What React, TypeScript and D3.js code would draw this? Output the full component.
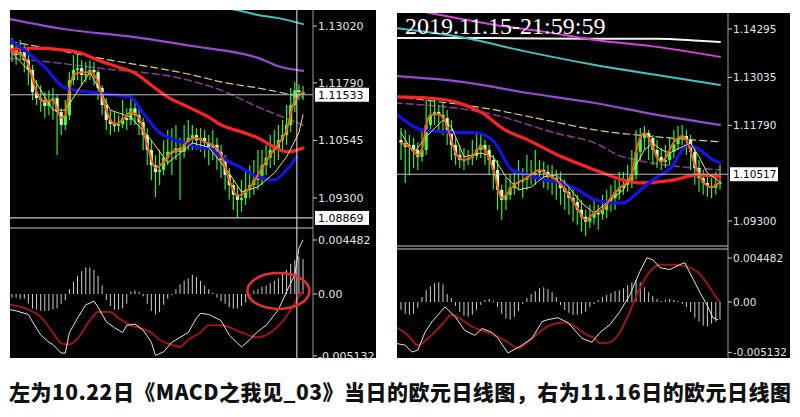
import React from "react";
import * as d3 from "d3";

type OHLC = [number, number, number, number];
type Pt = [number, number];

// ---------------- LEFT CHART (10.22) ----------------
const leftCandles: OHLC[] = [
  [1.1261, 1.1276, 1.1224, 1.125], [1.125, 1.1267, 1.1218, 1.1239], [1.1239, 1.1272, 1.1228, 1.1246],
  [1.1246, 1.1261, 1.1202, 1.1228], [1.1228, 1.125, 1.1174, 1.1207], [1.1207, 1.1218, 1.1142, 1.1159],
  [1.1159, 1.1185, 1.1131, 1.1146], [1.1146, 1.1174, 1.1116, 1.1142], [1.1142, 1.1159, 1.1103, 1.1129],
  [1.1129, 1.1163, 1.1109, 1.1142], [1.1142, 1.1168, 1.1099, 1.1146], [1.1146, 1.1152, 1.1023, 1.1116],
  [1.1116, 1.1124, 1.1066, 1.1088], [1.1088, 1.1142, 1.1077, 1.1109], [1.1109, 1.1202, 1.1099, 1.1185],
  [1.1185, 1.1239, 1.1174, 1.1207], [1.1207, 1.1246, 1.1185, 1.1211], [1.1211, 1.1228, 1.1174, 1.1196],
  [1.1196, 1.1224, 1.1181, 1.1198], [1.1198, 1.1228, 1.1185, 1.1207], [1.1207, 1.1224, 1.1174, 1.1202],
  [1.1202, 1.1207, 1.1142, 1.1168], [1.1168, 1.1174, 1.1109, 1.1131], [1.1131, 1.1146, 1.1077, 1.1099],
  [1.1099, 1.112, 1.1066, 1.109], [1.109, 1.1116, 1.1073, 1.1086], [1.1086, 1.1109, 1.1073, 1.109],
  [1.109, 1.1142, 1.1081, 1.1103], [1.1103, 1.1124, 1.1077, 1.1099], [1.1099, 1.1152, 1.1088, 1.1124],
  [1.1124, 1.1142, 1.1088, 1.1109], [1.1109, 1.1124, 1.1066, 1.1094], [1.1094, 1.1103, 1.1034, 1.1066],
  [1.1066, 1.1081, 1.1001, 1.1034], [1.1034, 1.1055, 1.0969, 1.1001], [1.1001, 1.1023, 1.0932, 1.0986],
  [1.0986, 1.1034, 1.0958, 1.0991], [1.0991, 1.1055, 1.098, 1.1017], [1.1017, 1.1077, 1.1001, 1.103],
  [1.103, 1.1081, 1.098, 1.1028], [1.1028, 1.1088, 1.1012, 1.1038], [1.1038, 1.106, 1.0926, 1.103],
  [1.103, 1.1088, 1.1017, 1.1051], [1.1051, 1.1099, 1.1034, 1.106], [1.106, 1.1088, 1.1034, 1.1066],
  [1.1066, 1.1081, 1.1034, 1.1055], [1.1055, 1.1081, 1.103, 1.106], [1.106, 1.1077, 1.1017, 1.1049],
  [1.1049, 1.1066, 1.1001, 1.1038], [1.1038, 1.1077, 1.1012, 1.1045], [1.1045, 1.106, 1.0991, 1.103],
  [1.103, 1.1045, 1.0973, 1.1012], [1.1012, 1.1023, 1.0948, 1.098], [1.098, 1.0995, 1.0926, 1.0958],
  [1.0958, 1.0969, 1.0904, 1.0937], [1.0937, 1.0958, 1.0887, 1.0926], [1.0926, 1.0969, 1.09, 1.093],
  [1.093, 1.0986, 1.0915, 1.0948], [1.0948, 1.1001, 1.093, 1.0958], [1.0958, 1.1012, 1.0937, 1.0969],
  [1.0969, 1.1034, 1.0948, 1.0978], [1.0978, 1.1034, 1.0958, 1.1001], [1.1001, 1.1045, 1.098, 1.1017],
  [1.1017, 1.1066, 1.0995, 1.1034], [1.1034, 1.1077, 1.1001, 1.1038], [1.1038, 1.1088, 1.1012, 1.1055],
  [1.1055, 1.1099, 1.1034, 1.1066], [1.1066, 1.1131, 1.1045, 1.1088], [1.1088, 1.1168, 1.1073, 1.1131],
  [1.1131, 1.1181, 1.1116, 1.1163], [1.1163, 1.1176, 1.1142, 1.1159], [1.1159, 1.1172, 1.1142, 1.1155],
];
const leftRed: Pt[] = [[-0.5, 1.125], [5, 1.1254], [13, 1.125], [17, 1.1243], [21, 1.1228], [26, 1.1213], [30, 1.12], [34, 1.1174], [38, 1.1148], [42, 1.1131], [46, 1.1114], [48, 1.1105], [51, 1.1088], [56, 1.1073], [60, 1.106], [64, 1.104], [67, 1.103], [69, 1.1032], [71, 1.1038]];
const leftBlue: Pt[] = [[-0.5, 1.1272], [4, 1.1243], [8, 1.1213], [13, 1.1168], [21, 1.1157], [29, 1.1148], [32, 1.1114], [36, 1.1071], [43, 1.1047], [46, 1.1038], [48, 1.1038], [51, 1.1019], [56, 1.0995], [60, 1.0976], [64, 1.0969], [67, 1.0991], [69.5, 1.1019]];
const leftPurple: Pt[] = [[-0.5, 1.1317], [13, 1.1295], [30, 1.1278], [46, 1.1256], [51, 1.125], [60, 1.1233], [65, 1.1215], [71, 1.1205]];
const leftCyan: Pt[] = [[50, 1.1347], [55, 1.1336], [60, 1.1326], [65, 1.1319], [71, 1.1306]];
const leftKhaki: Pt[] = [[-0.5, 1.1269], [21, 1.1233], [46, 1.1192], [51, 1.1181], [60, 1.1168], [71, 1.1148]];
const leftViolet: Pt[] = [[-0.5, 1.1232], [5, 1.1228], [21, 1.1211], [43, 1.1185], [51, 1.1163], [60, 1.1127], [71, 1.1088]];
const leftOrange: Pt[] = [[0, 1.1246], [2, 1.1241], [4, 1.1218], [6, 1.1159], [8, 1.1138], [10, 1.1142], [12, 1.1103], [13, 1.1109], [14, 1.1163], [15, 1.1196], [17, 1.1202], [19, 1.1202], [21, 1.1181], [23, 1.112], [25, 1.109], [27, 1.1099], [29, 1.1116], [31, 1.1103], [33, 1.1045], [35, 1.0995], [37, 1.1008], [39, 1.103], [41, 1.1034], [43, 1.1055], [45, 1.106], [47, 1.1051], [49, 1.1045], [51, 1.1023], [53, 1.0969], [55, 1.0935], [57, 1.0943], [59, 1.0965], [61, 1.0995], [63, 1.1023], [65, 1.1047], [67, 1.1077], [69, 1.1142], [71, 1.1157]];
const leftYellow: Pt[] = [[0, 1.1243], [4, 1.1207], [10, 1.112], [13, 1.112], [19, 1.1202], [24, 1.112], [29, 1.1105], [34, 1.1055], [38, 1.1006], [42, 1.1034], [44, 1.1049], [48, 1.104], [53, 1.0984], [56, 1.0943], [60, 1.0954], [64, 1.0984], [67, 1.1019], [70, 1.1071], [71, 1.111]];
const leftHist: number[] = [
  -0.0003, -0.0003, -0.0004, -0.0004,
  -0.0008, -0.0012, -0.0013, -0.0014, -0.0014, -0.0014, -0.0013, -0.0012, -0.0008,
  -0.0005,
  0.0004, 0.001, 0.0015, 0.0019, 0.0022, 0.0022, 0.002, 0.0015, 0.0007,
  -0.0005, -0.001, -0.0013, -0.0013, -0.0012, -0.0008, 0.0002, 0.0003, 0.0002, -0.0002,
  -0.0008, -0.0014, -0.0017, -0.0015, -0.0009, -0.0004, -0.0001,
  0.0004, 0.0008, 0.0011, 0.0013, 0.0016, 0.0014, 0.0011, 0.0007, 0.0004, 0.0001,
  -0.0003, -0.0006, -0.0008, -0.0011, -0.0012, -0.0012, -0.001, -0.0007, -0.0003,
  0.0003, 0.0004, 0.0006, 0.0007, 0.0009, 0.0011, 0.0013, 0.0017, 0.002, 0.0025, 0.0028, 0.0031, 0.0029,
];
const leftMacd: Pt[] = [[-0.5, -0.0013], [1, -0.0014], [4, -0.0017], [5, -0.0023], [7, -0.0034], [9, -0.004], [10, -0.0042], [12, -0.0049], [13, -0.0049], [14, -0.0032], [16, -0.002], [18, -0.0009], [20, -0.0006], [21, -0.0011], [23, -0.0023], [25, -0.0028], [27, -0.0032], [28, -0.0026], [30, -0.0025], [32, -0.003], [34, -0.004], [35, -0.0051], [37, -0.0048], [39, -0.004], [43, -0.0032], [45, -0.002], [46, -0.0016], [48, -0.0017], [51, -0.0022], [53, -0.0034], [56, -0.0044], [58, -0.0038], [60, -0.0031], [62, -0.0026], [65, -0.0013], [67, 0.0002], [69, 0.0016], [70, 0.0038], [71, 0.0045]];
const leftSignal: Pt[] = [[-0.5, -0.0009], [4, -0.0013], [7, -0.0019], [10, -0.0032], [12, -0.0041], [14, -0.0042], [16, -0.0037], [19, -0.0022], [21, -0.0015], [24, -0.0015], [26, -0.002], [29, -0.0026], [31, -0.0028], [34, -0.0032], [36, -0.0038], [39, -0.0042], [41, -0.0044], [43, -0.0038], [46, -0.0032], [48, -0.0026], [51, -0.0026], [56, -0.0032], [60, -0.0036], [63, -0.0032], [66, -0.0023], [68, -0.0013], [70, -0.0002], [71, 0.0003]];
const leftPriceTicks = [1.1302, 1.1179, 1.10545, 1.093];
const leftMarks = [1.11533, 1.08869];
const leftMacdTicks = [0.004482, 0, -0.005132];
const leftMacdLabels = ["0.004482", "0.00", "-0.005132"];
const leftCrossIndex = 69.5;
const leftRing: Pt = [65, 0.00025];

// ---------------- RIGHT CHART (11.16) ----------------
const rightCandles: OHLC[] = [
  [1.1141, 1.1172, 1.1089, 1.1133], [1.1133, 1.1167, 1.1029, 1.1123], [1.1123, 1.1154, 1.105, 1.1128],
  [1.1128, 1.1146, 1.1068, 1.1115], [1.1115, 1.1135, 1.1063, 1.1097], [1.1097, 1.1172, 1.1084, 1.1115],
  [1.1115, 1.1245, 1.1102, 1.118], [1.118, 1.1245, 1.1167, 1.1206], [1.1206, 1.125, 1.118, 1.1214],
  [1.1214, 1.1232, 1.1167, 1.1206], [1.1206, 1.124, 1.1154, 1.1198], [1.1198, 1.1219, 1.1128, 1.1167],
  [1.1167, 1.1193, 1.1089, 1.1128], [1.1128, 1.1146, 1.1076, 1.1102], [1.1102, 1.1128, 1.1068, 1.1089],
  [1.1089, 1.112, 1.1063, 1.1089], [1.1089, 1.1115, 1.1076, 1.1094], [1.1094, 1.1141, 1.1076, 1.1099],
  [1.1099, 1.1162, 1.1089, 1.1115], [1.1115, 1.1154, 1.1094, 1.1128], [1.1128, 1.1141, 1.1076, 1.1115],
  [1.1115, 1.1128, 1.105, 1.1089], [1.1089, 1.1102, 1.1011, 1.1063], [1.1063, 1.1089, 1.0959, 1.1011],
  [1.1011, 1.1024, 1.0933, 1.0985], [1.0985, 1.1042, 1.0959, 1.0998], [1.0998, 1.105, 1.0985, 1.1016],
  [1.1016, 1.1063, 1.0998, 1.1029], [1.1029, 1.1089, 1.1011, 1.1032], [1.1032, 1.1068, 1.099, 1.1037],
  [1.1037, 1.1102, 1.1011, 1.1045], [1.1045, 1.1089, 1.1024, 1.105], [1.105, 1.1115, 1.1024, 1.1055],
  [1.1055, 1.1089, 1.1037, 1.1063], [1.1063, 1.1084, 1.1016, 1.1058], [1.1058, 1.1076, 1.1011, 1.1047],
  [1.1047, 1.1076, 1.0998, 1.1042], [1.1042, 1.1063, 1.0985, 1.1032], [1.1032, 1.1058, 1.0972, 1.1016],
  [1.1016, 1.1037, 1.0959, 1.1006], [1.1006, 1.1024, 1.0946, 1.099], [1.099, 1.1016, 1.0928, 1.098],
  [1.098, 1.0998, 1.092, 1.0959], [1.0959, 1.0985, 1.0902, 1.0941], [1.0941, 1.0959, 1.0891, 1.0928],
  [1.0928, 1.0972, 1.0912, 1.0938], [1.0938, 1.0985, 1.092, 1.0951], [1.0951, 1.0972, 1.0907, 1.0948],
  [1.0948, 1.0998, 1.0933, 1.0959], [1.0959, 1.1011, 1.0938, 1.0974], [1.0974, 1.1024, 1.0954, 1.099],
  [1.099, 1.1037, 1.0959, 1.1006], [1.1006, 1.1058, 1.0985, 1.1016], [1.1016, 1.1058, 1.0998, 1.1024],
  [1.1024, 1.1076, 1.1006, 1.1032], [1.1032, 1.1115, 1.1016, 1.105], [1.105, 1.1167, 1.1037, 1.111],
  [1.111, 1.1172, 1.1089, 1.1146], [1.1146, 1.1177, 1.1115, 1.1159], [1.1159, 1.1167, 1.1089, 1.1146],
  [1.1146, 1.1154, 1.1076, 1.1115], [1.1115, 1.1141, 1.1068, 1.1097], [1.1097, 1.112, 1.1063, 1.1084],
  [1.1084, 1.1128, 1.1068, 1.1089], [1.1089, 1.1146, 1.1076, 1.111], [1.111, 1.1167, 1.1094, 1.113],
  [1.113, 1.1177, 1.1115, 1.1146], [1.1146, 1.118, 1.1128, 1.1151], [1.1151, 1.1167, 1.1102, 1.1141],
  [1.1141, 1.1154, 1.1063, 1.111], [1.111, 1.112, 1.1024, 1.1068], [1.1068, 1.1089, 1.1006, 1.1042],
  [1.1042, 1.1063, 1.0998, 1.1029], [1.1029, 1.105, 1.0993, 1.1021], [1.1021, 1.1042, 1.099, 1.1016],
  [1.1016, 1.1058, 1.0998, 1.1026], [1.1026, 1.1076, 1.1011, 1.1032],
];
const rightWhite: Pt[] = [[-1.4, 1.1406], [22, 1.1406], [45, 1.1404], [61, 1.1404], [71, 1.1399], [76, 1.1396]];
const rightMagenta: Pt[] = [[-1.4, 1.149], [8.8, 1.1467], [22.4, 1.144], [34.3, 1.1422], [46.2, 1.1401], [61, 1.1383], [76, 1.1357]];
const rightCyan: Pt[] = [[-1.4, 1.1432], [14.5, 1.1408], [30.2, 1.137], [46.2, 1.1336], [61, 1.131], [76, 1.1284]];
const rightPurple: Pt[] = [[-1.4, 1.1307], [14.5, 1.1292], [30.2, 1.1263], [46.2, 1.1237], [61, 1.1206], [76, 1.118]];
const rightKhaki: Pt[] = [[-1.4, 1.1253], [22.4, 1.1219], [34.3, 1.1193], [46.2, 1.1167], [61, 1.1149], [76, 1.1136]];
const rightViolet: Pt[] = [[-1.4, 1.1237], [22.4, 1.1206], [36.7, 1.1159], [46.2, 1.1133], [52.9, 1.1097], [76, 1.1063]];
const rightRed: Pt[] = [[-1.4, 1.1253], [6.4, 1.125], [12.9, 1.124], [19.3, 1.1211], [24.8, 1.1167], [30.2, 1.1141], [38.3, 1.1097], [46.2, 1.1063], [52.9, 1.1037], [57, 1.1029], [65.1, 1.1037], [70.5, 1.105], [76, 1.1045]];
const rightBlue: Pt[] = [[-1.4, 1.1211], [1.7, 1.1185], [5, 1.1167], [10.5, 1.1162], [18.3, 1.1159], [22.4, 1.1133], [26.4, 1.1063], [30.2, 1.105], [34.3, 1.1037], [38.3, 1.1029], [42.1, 1.1011], [46.2, 1.0985], [49.8, 1.0977], [52.9, 1.0977], [56.2, 1.1003], [60, 1.1037], [64.5, 1.1071], [68.3, 1.1128], [71.2, 1.1115], [74.3, 1.1089], [76, 1.1081]];
const rightOrange: Pt[] = [[0, 1.1133], [2, 1.1123], [4, 1.1102], [5, 1.1115], [6, 1.118], [7, 1.1206], [9, 1.1208], [10, 1.12], [12, 1.1141], [13, 1.1107], [15, 1.1089], [17, 1.1097], [19, 1.1123], [20, 1.1115], [22, 1.1063], [24, 1.099], [25, 1.0998], [27, 1.1024], [30, 1.1042], [33, 1.1063], [35, 1.105], [37, 1.1037], [40, 1.0998], [42, 1.0964], [44, 1.0933], [46, 1.0951], [48, 1.0959], [50, 1.099], [52, 1.1016], [54, 1.1032], [55, 1.105], [56, 1.111], [57, 1.1146], [58, 1.1159], [59, 1.1146], [61, 1.1097], [62, 1.1084], [63, 1.1094], [65, 1.1135], [67, 1.1151], [68, 1.1141], [70, 1.1076], [72, 1.1032], [74, 1.1018], [76, 1.1032]];
const rightYellow: Pt[] = [[0, 1.1159], [3, 1.1107], [6, 1.1149], [10, 1.1193], [12, 1.1175], [15, 1.1097], [19, 1.1107], [22, 1.1097], [25, 1.1045], [28, 1.1011], [31, 1.1018], [34, 1.1045], [37, 1.105], [40, 1.1018], [43, 1.0977], [46, 1.0951], [50, 1.0985], [53, 1.1011], [55, 1.1055], [58, 1.1115], [60, 1.1133], [62, 1.1115], [64, 1.1107], [67, 1.1123], [69, 1.1133], [71, 1.1097], [73, 1.1055], [76, 1.1032]];
const rightHist: number[] = [
  -0.0008, -0.0012, -0.0013, -0.0012, -0.0006,
  0.0005, 0.0012, 0.0016, 0.0019, 0.002, 0.0018, 0.0008, 0.0004,
  -0.0004, -0.001, -0.0014, -0.0015, -0.0013, -0.0008, -0.0003,
  0.0002, 0.0003, 0.0001,
  -0.0005, -0.0012, -0.0017, -0.0018, -0.0015, -0.0009, -0.0002,
  0.0004, 0.0008, 0.0011, 0.0014, 0.0015, 0.0013, 0.001, 0.0005,
  -0.0003, -0.0008, -0.0011, -0.0013, -0.0013, -0.0012, -0.001, -0.0005, -0.0002,
  0.0002, 0.0005, 0.0007, 0.0009, 0.0011, 0.0012, 0.0014, 0.0017, 0.002, 0.0022, 0.002, 0.0015, 0.001, 0.0006, 0.0003, 0.0001, 0.0002, 0.0003, 0.0002, 0.0001,
  -0.0002, -0.0005, -0.001, -0.0016, -0.002, -0.0024, -0.0025, -0.0022, -0.002, -0.0018,
];
const rightMacd: Pt[] = [[-1.4, -0.0042], [1, -0.0044], [2.6, -0.0051], [4, -0.0049], [5.7, -0.0031], [7.4, -0.002], [10.5, -0.0005], [12.9, -0.0015], [15.2, -0.0029], [17.6, -0.0034], [19.3, -0.0027], [21.7, -0.0031], [23.1, -0.0037], [25.5, -0.0052], [28.8, -0.0044], [31.2, -0.0037], [33.6, -0.002], [35, -0.0018], [37.4, -0.0016], [39.8, -0.0021], [43.1, -0.0037], [45.5, -0.0041], [47.4, -0.0031], [49.8, -0.0023], [52.1, -0.001], [54.5, 0.0007], [56.9, 0.0031], [58.6, 0.0045], [60, 0.0043], [61.7, 0.0035], [64, 0.0033], [66.4, 0.0038], [67.6, 0.004], [69.5, 0.0024], [71.2, 0.001], [72.9, -0.0003], [74.3, -0.0016], [75.5, -0.0018]];
const rightSignal: Pt[] = [[-1.4, -0.0025], [1.7, -0.0034], [4, -0.0044], [6.4, -0.0037], [9.8, -0.0023], [12.1, -0.0013], [14.5, -0.0018], [16.9, -0.0025], [19.3, -0.0029], [22.4, -0.0034], [25.5, -0.0041], [27.9, -0.0047], [30.2, -0.0041], [32.6, -0.0032], [36, -0.0023], [39, -0.0021], [41.4, -0.0025], [44.5, -0.0034], [46.2, -0.0037], [47.4, -0.0042], [49.8, -0.0041], [52.1, -0.0031], [54.5, -0.001], [56.9, 0.0014], [59.3, 0.0031], [61.7, 0.0038], [64.8, 0.0038], [68.1, 0.0036], [70.5, 0.0031], [72.9, 0.0019], [75.2, 0.0004], [76, 0]];
const rightPriceTicks = [1.14295, 1.13035, 1.1179, 1.093];
const rightMarks = [1.10517];
const rightMacdTicks = [0.004482, 0, -0.005132];
const rightMacdLabels = ["0.004482", "0.00", "-0.005132"];
const rightTitle = "2019.11.15-21:59:59";

const caption = "左为10.22日《MACD之我见_03》当日的欧元日线图，右为11.16日的欧元日线图";

// ---------------- styles ----------------
const ST = {
  white: { stroke: "#f4f4f4", w: 2 },
  magenta: { stroke: "#e040e0", w: 2 },
  cyan: { stroke: "#3ec4c4", w: 2 },
  purple: { stroke: "#9a48d8", w: 2.2 },
  khaki: { stroke: "#cfcf86", w: 1.2, dash: "7 4" },
  violet: { stroke: "#8a3590", w: 1.6, dash: "7 4" },
  red: { stroke: "#ff2222", w: 3.2 },
  blue: { stroke: "#1414e6", w: 3.2 },
  orange: { stroke: "#ff5a14", w: 2 },
  yellow: { stroke: "#f0e070", w: 1 },
};

type Cfg = {
  id: string;
  candles: OHLC[];
  back: { pts: Pt[]; s: any }[];
  front: { pts: Pt[]; s: any }[];
  hist: number[];
  macd: Pt[];
  signal: Pt[];
  priceTicks: number[];
  marks: number[];
  macdTicks: number[];
  macdLabels: string[];
  crossIndex?: number;
  ring?: Pt;
  title?: string;
};

type Lay = {
  bg: [number, number, number, number];
  axisX: number;
  pClip: [number, number, number, number];
  mClip: [number, number, number, number];
  seps: number[];
  xr: [number, number];
  pr: [number, number];
  mr: [number, number];
  font: number;
  boxW: number;
  markLine?: boolean;
};

function Chart({ c, L }: { c: Cfg; L: Lay }) {
  const n = c.candles.length;
  const x = d3.scaleLinear().domain([0, n - 1]).range(L.xr);
  const y = d3.scaleLinear().domain([c.priceTicks[0], c.priceTicks[c.priceTicks.length - 1]]).range(L.pr);
  const ym = d3.scaleLinear().domain([c.macdTicks[0], 0]).range(L.mr);
  const smooth = d3.line<Pt>().x((p) => x(p[0])).y((p) => y(p[1])).curve(d3.curveMonotoneX);
  const jag = d3.line<Pt>().x((p) => x(p[0])).y((p) => y(p[1])).curve(d3.curveLinear);
  const mLine = d3.line<Pt>().x((p) => x(p[0])).y((p) => ym(p[1])).curve(d3.curveLinear);
  const mSmooth = d3.line<Pt>().x((p) => x(p[0])).y((p) => ym(p[1])).curve(d3.curveMonotoneX);
  const [bx, by, bw, bh] = L.bg;
  const lbl = L.axisX + 5;
  const path = (g: any, l: { pts: Pt[]; s: any }, k: string) => (
    <path key={k} d={g(l.pts) || ""} fill="none" stroke={l.s.stroke} strokeWidth={l.s.w}
      strokeDasharray={l.s.dash} strokeLinejoin="round" strokeLinecap="round" />
  );
  return (
    <g>
      <defs>
        <clipPath id={c.id + "p"}><rect x={L.pClip[0]} y={L.pClip[1]} width={L.pClip[2]} height={L.pClip[3]} /></clipPath>
        <clipPath id={c.id + "m"}><rect x={L.mClip[0]} y={L.mClip[1]} width={L.mClip[2]} height={L.mClip[3]} /></clipPath>
      </defs>
      <rect x={bx} y={by} width={bw} height={bh} fill="#000" />
      <g clipPath={`url(#${c.id}p)`}>
        {c.back.map((l, i) => path(smooth, l, "b" + i))}
        {c.candles.map((d, i) => {
          const [o, h, lo, cl] = d;
          const up = cl >= o;
          const top = y(Math.max(o, cl));
          const bot = y(Math.min(o, cl));
          return (
            <g key={"c" + i}>
              <line x1={x(i)} x2={x(i)} y1={y(h)} y2={y(lo)} stroke="#30f030" strokeWidth={1.2} />
              <rect x={x(i) - 1.6} y={top} width={3.2} height={Math.max(1.5, bot - top)} fill={up ? "#3cff3c" : "#c4ffc4"} />
            </g>
          );
        })}
        {c.front.map((l, i) => path(l.s === ST.yellow ? jag : smooth, l, "f" + i))}
        {c.marks.slice(0, 1).map((m, i) => (
          <line key={"h" + i} x1={bx} x2={L.axisX} y1={y(m)} y2={y(m)} stroke="#bdbdbd" strokeWidth={1} />
        ))}
      </g>
      {L.markLine && c.marks.slice(1).map((m, i) => (
        <line key={"m" + i} x1={bx} x2={L.axisX} y1={y(m)} y2={y(m)} stroke="#c8c8c8" strokeWidth={1.2} />
      ))}
      {L.seps.map((s, i) => (
        <line key={"s" + i} x1={bx} x2={L.axisX} y1={s} y2={s} stroke="#c8c8c8" strokeWidth={1.2} />
      ))}
      <g clipPath={`url(#${c.id}m)`}>
        {c.hist.map((v, i) => (
          <line key={"hb" + i} x1={x(i)} x2={x(i)} y1={ym(0)} y2={ym(v)} stroke="#cfcfcf" strokeWidth={1} />
        ))}
        <path d={mSmooth(c.signal) || ""} fill="none" stroke="#9e1414" strokeWidth={2} />
        <path d={mLine(c.macd) || ""} fill="none" stroke="#e6e6e6" strokeWidth={1} />
      </g>
      {c.crossIndex !== undefined && (
        <line x1={x(c.crossIndex)} x2={x(c.crossIndex)} y1={by} y2={by + bh} stroke="#ececec" strokeWidth={1} />
      )}
      {c.ring && (
        <ellipse cx={x(c.ring[0])} cy={ym(c.ring[1])} rx={31} ry={18} fill="none" stroke="#e23030" strokeWidth={2.6} />
      )}
      <line x1={L.axisX} x2={L.axisX} y1={by} y2={by + bh} stroke="#9a9a9a" strokeWidth={1} />
      <g fontFamily="DejaVu Sans, Verdana, sans-serif" fontSize={L.font}>
        {c.priceTicks.map((t, i) => (
          <g key={"t" + i}>
            <line x1={L.axisX} x2={L.axisX + 4} y1={y(t)} y2={y(t)} stroke="#d0d0d0" />
            <text x={lbl} y={y(t) + 4} fill="#e4e4e4">{t.toFixed(5)}</text>
          </g>
        ))}
        {c.marks.map((m, i) => (
          <g key={"mk" + i}>
            <rect x={L.axisX + 2} y={y(m) - 7} width={L.boxW} height={14} fill="#fff" />
            <text x={lbl} y={y(m) + 4} fill="#000">{m.toFixed(5)}</text>
          </g>
        ))}
        {c.macdTicks.map((t, i) => (
          <g key={"mt" + i}>
            <line x1={L.axisX} x2={L.axisX + 4} y1={ym(t)} y2={ym(t)} stroke="#d0d0d0" />
            <text x={lbl} y={ym(t) + 4} fill="#e4e4e4">{c.macdLabels[i]}</text>
          </g>
        ))}
      </g>
      {c.title && (
        <text x={bx + 8} y={by + 21} fill="#fff" fontFamily="Liberation Serif, DejaVu Serif, serif" fontSize={24}>{c.title}</text>
      )}
    </g>
  );
}

const leftCfg: Cfg = {
  id: "L",
  candles: leftCandles,
  back: [
    { pts: leftCyan, s: ST.cyan },
    { pts: leftPurple, s: ST.purple },
    { pts: leftKhaki, s: ST.khaki },
    { pts: leftViolet, s: ST.violet },
  ],
  front: [
    { pts: leftRed, s: ST.red },
    { pts: leftBlue, s: ST.blue },
    { pts: leftYellow, s: ST.yellow },
    { pts: leftOrange, s: ST.orange },
  ],
  hist: leftHist,
  macd: leftMacd,
  signal: leftSignal,
  priceTicks: leftPriceTicks,
  marks: leftMarks,
  macdTicks: leftMacdTicks,
  macdLabels: leftMacdLabels,
  crossIndex: leftCrossIndex,
  ring: leftRing,
};

const rightCfg: Cfg = {
  id: "R",
  candles: rightCandles,
  back: [
    { pts: rightWhite, s: ST.white },
    { pts: rightMagenta, s: ST.magenta },
    { pts: rightCyan, s: ST.cyan },
    { pts: rightPurple, s: ST.purple },
    { pts: rightKhaki, s: ST.khaki },
    { pts: rightViolet, s: ST.violet },
  ],
  front: [
    { pts: rightRed, s: ST.red },
    { pts: rightBlue, s: ST.blue },
    { pts: rightYellow, s: ST.yellow },
    { pts: rightOrange, s: ST.orange },
  ],
  hist: rightHist,
  macd: rightMacd,
  signal: rightSignal,
  priceTicks: rightPriceTicks,
  marks: rightMarks,
  macdTicks: rightMacdTicks,
  macdLabels: rightMacdLabels,
  title: rightTitle,
};

const leftLay: Lay = {
  bg: [10, 10, 366, 348], axisX: 313,
  pClip: [10, 10, 303, 216], mClip: [10, 229, 303, 129],
  seps: [228], xr: [12, 303], pr: [26, 198], mr: [240, 294], font: 11, boxW: 54, markLine: true,
};
const rightLay: Lay = {
  bg: [397, 13, 393, 345], axisX: 728,
  pClip: [397, 13, 331, 232], mClip: [397, 250, 331, 108],
  seps: [246, 249], xr: [401, 720], pr: [29, 221], mr: [258, 302], font: 10.5, boxW: 48,
};

export default function App() {
  return (
    <svg width={800} height={417} style={{ position: "absolute", left: 0, top: 0, background: "#fff" }}>
      <rect x={0} y={0} width={800} height={417} fill="#fff" />
      <Chart c={leftCfg} L={leftLay} />
      <Chart c={rightCfg} L={rightLay} />
      <text x={400} y={400} textAnchor="middle" fontFamily="Noto Sans CJK SC, sans-serif" fontWeight="900"
        fontSize={21} fill="#111" textLength={782}>{caption}</text>
    </svg>
  );
}
